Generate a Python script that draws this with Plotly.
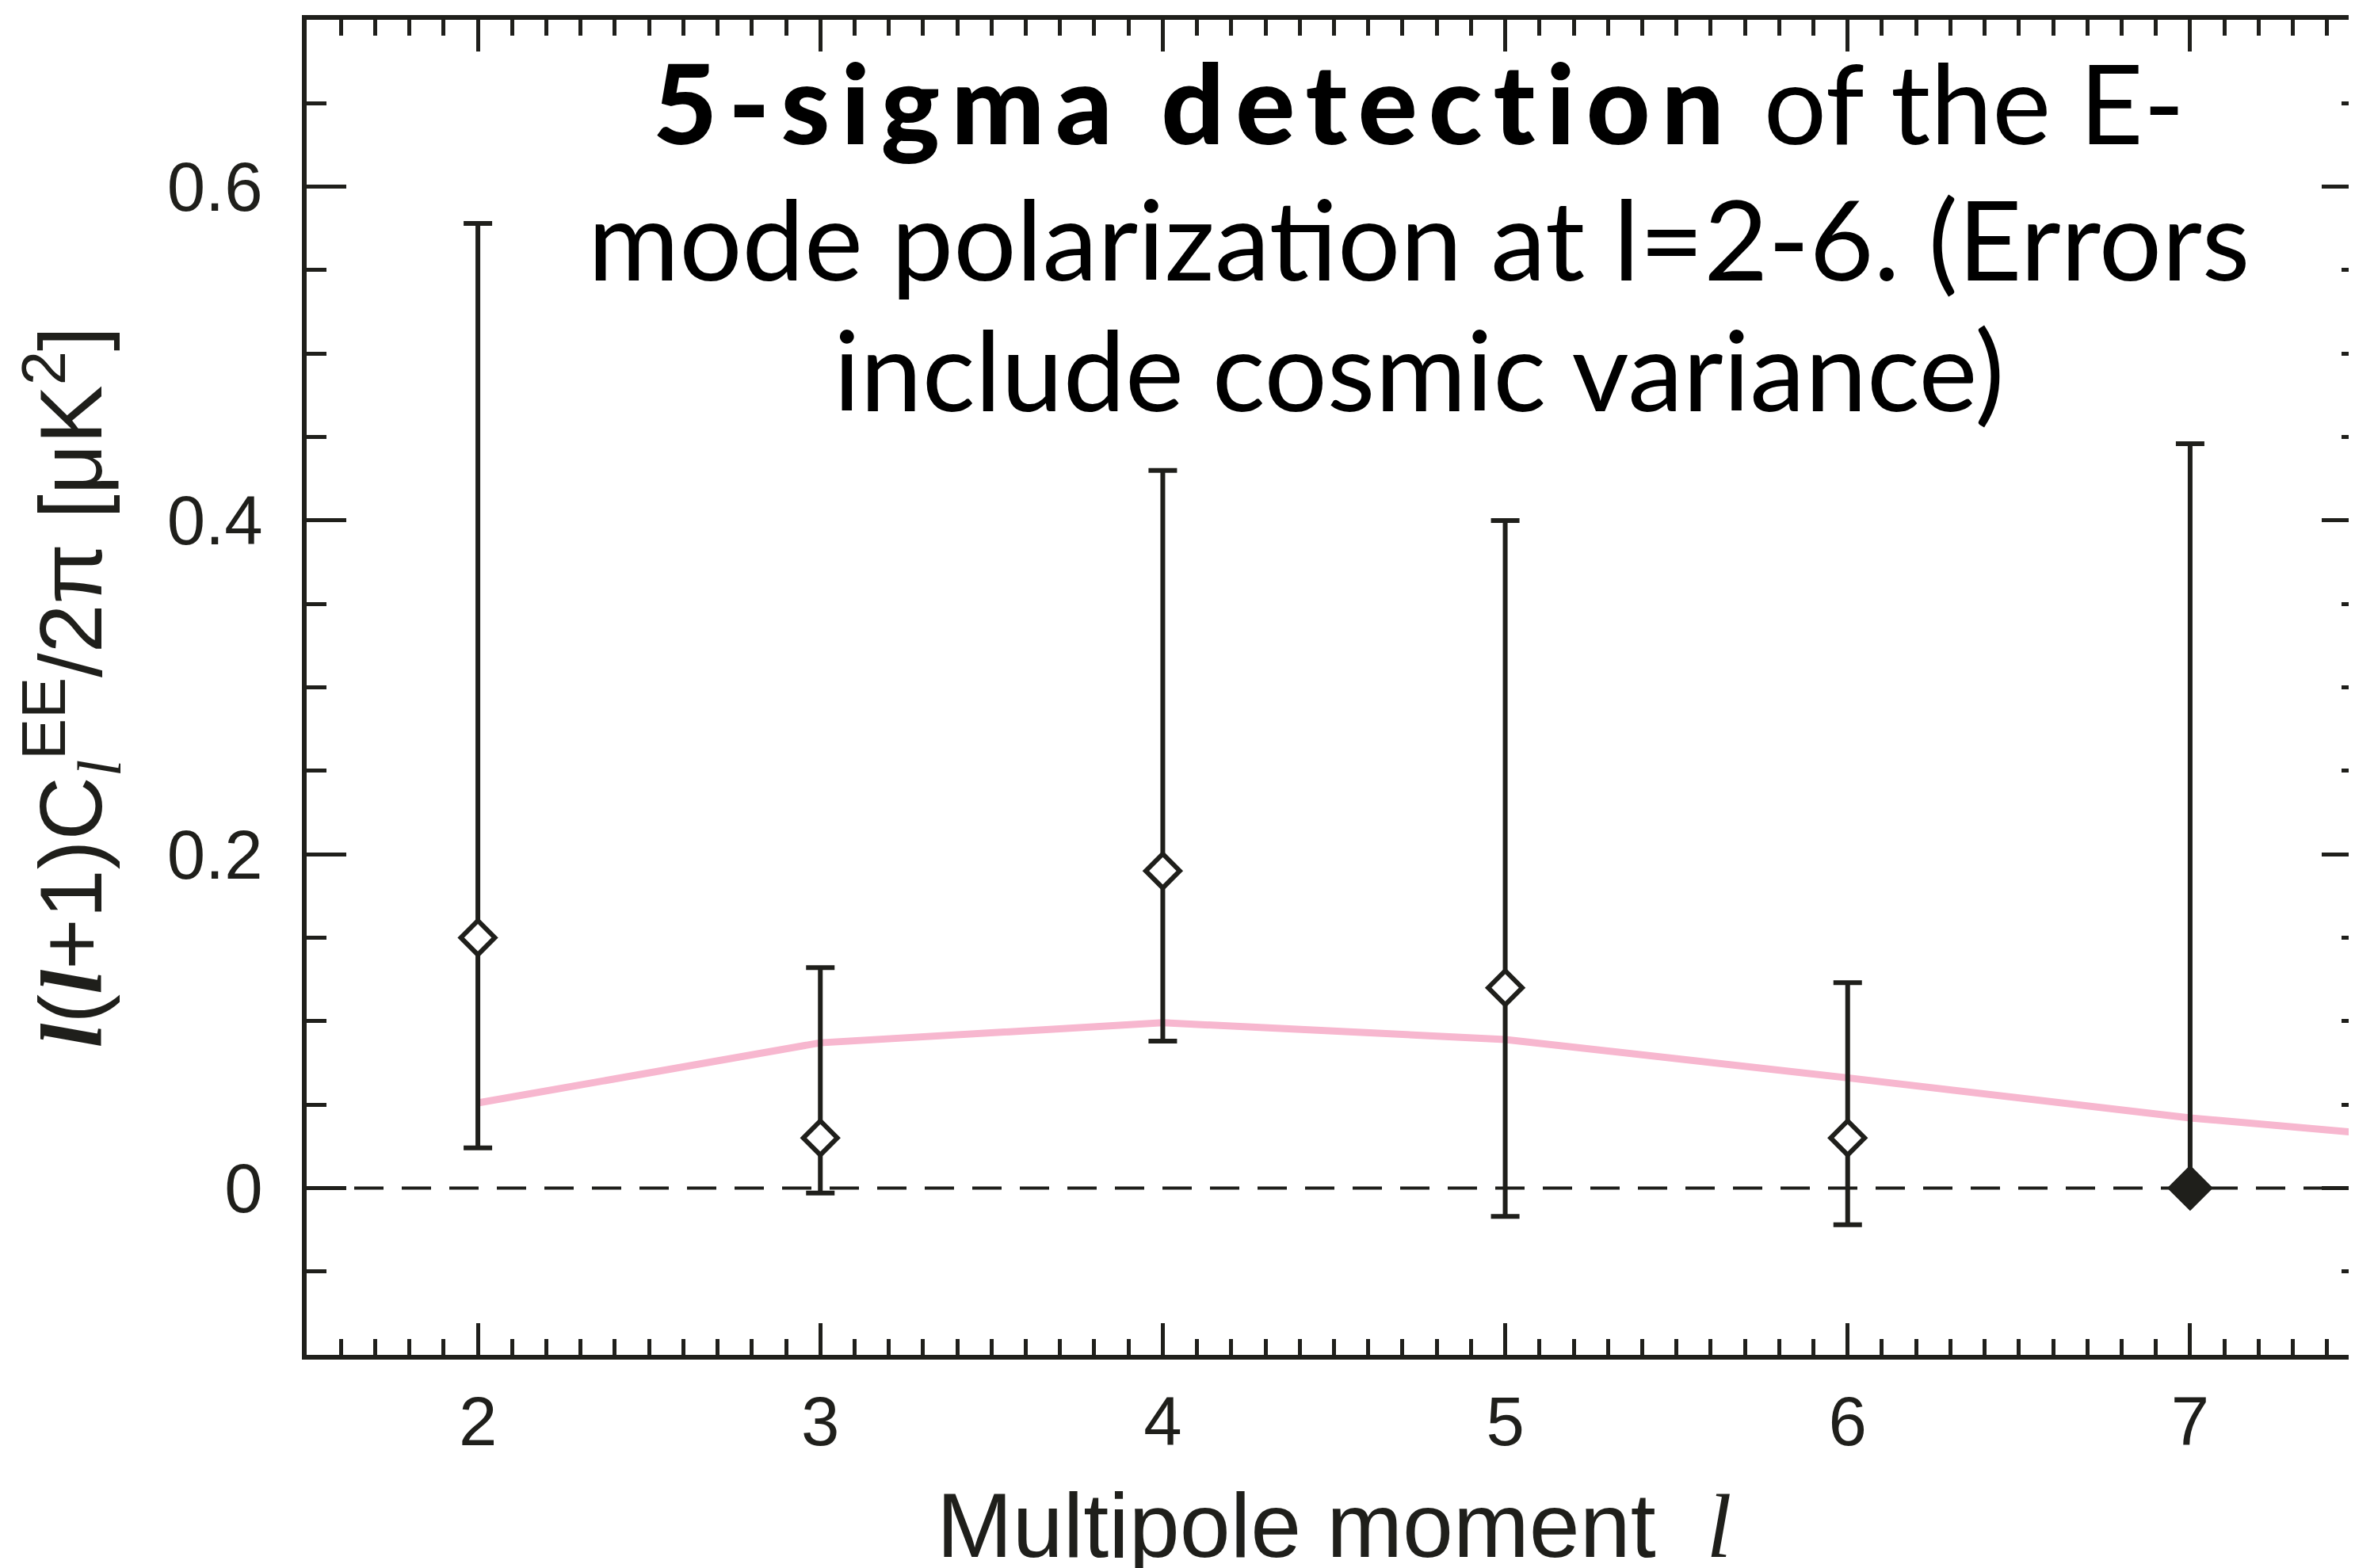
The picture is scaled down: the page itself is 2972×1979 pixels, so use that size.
import plotly.graph_objects as go

# ---- data ----
multipole = [2, 3, 4, 5, 6, 7]
cl_ee = [0.15, 0.03, 0.19, 0.12, 0.03, 0.0]
err_plus = [0.428, 0.102, 0.240, 0.280, 0.093, 0.446]
err_minus = [0.126, 0.033, 0.102, 0.137, 0.052, 0.0]
filled = [False, False, False, False, False, True]

model_l = [2, 3, 4, 5, 6, 7, 8]
model_cl = [0.051, 0.087, 0.099, 0.089, 0.066, 0.042, 0.024]

x_range = [1.5, 7.5]
y_range = [-0.1, 0.7]
y_ticks = [0, 0.2, 0.4, 0.6]
y_ticktext = ["0", "0.2", "0.4", "0.6"]

headline = [
    "<span style=\"font-weight:900;letter-spacing:14px\">5-sigma detection</span> of the E-",
    "mode polarization at l=2-6. (Errors",
    "include cosmic variance)",
]
headline_y = [0.939, 0.8368, 0.7389]

INK = "#1f1f1b"
PINK = "#f7b7cf"
SANS = "Liberation Sans, Arial, sans-serif"
SERIF = "Liberation Serif, Times New Roman, serif"
TITLE_FONT = "Lato, Gill Sans, sans-serif"

fig = go.Figure()

fig.add_trace(go.Scatter(
    x=model_l, y=model_cl, mode="lines",
    line=dict(color=PINK, width=9),
    hoverinfo="skip", showlegend=False,
))

fig.add_trace(go.Scatter(
    x=multipole, y=cl_ee, mode="markers",
    marker=dict(
        symbol="diamond",
        size=[33 if not f else 38 for f in filled],
        color=[INK if f else "white" for f in filled],
        opacity=1,
        line=dict(color=INK, width=6),
    ),
    error_y=dict(type="data", symmetric=False, array=err_plus, arrayminus=err_minus,
                 color=INK, thickness=6, width=18),
    showlegend=False,
))

# zero reference line
fig.add_shape(type="line", xref="paper", x0=0, x1=1, yref="y", y0=0, y1=0,
              line=dict(color=INK, width=4, dash="37px,23px"), layer="below")

fig.update_layout(
    width=2978, height=1979,
    margin=dict(l=379, r=0, t=17, b=277, pad=0),
    paper_bgcolor="white", plot_bgcolor="white",
    showlegend=False,
    xaxis=dict(
        range=x_range, dtick=1, tick0=0,
        showgrid=False, zeroline=False,
        showline=True, linecolor=INK, linewidth=6, mirror="ticks",
        ticks="inside", ticklen=40, tickwidth=5, tickcolor=INK,
        minor=dict(dtick=0.1, tick0=0, ticks="inside", ticklen=20, tickwidth=4.5, tickcolor=INK, showgrid=False),
        tickfont=dict(family=SANS, size=87, color=INK),
        ticklabelstandoff=4,
    ),
    yaxis=dict(
        range=y_range, tickmode="array", tickvals=y_ticks, ticktext=y_ticktext,
        showgrid=False, zeroline=False,
        showline=True, linecolor=INK, linewidth=6, mirror="ticks",
        ticks="inside", ticklen=50, tickwidth=5, tickcolor=INK,
        minor=dict(dtick=0.05, tick0=0, ticks="inside", ticklen=25, tickwidth=4.5, tickcolor=INK, showgrid=False),
        tickfont=dict(family=SANS, size=87, color=INK),
        ticklabelstandoff=32,
    ),
)

# axis titles
fig.add_annotation(
    xref="paper", yref="paper", x=0.5, y=-0.128, xanchor="center", yanchor="middle",
    text=f"Multipole moment  <span style=\"font-family:{SERIF}\"><i>l</i></span>",
    showarrow=False, font=dict(family=SANS, size=115, color=INK),
)
L = f"<span style=\"font-family:{SERIF}\"><b><i>l</i></b></span>"
Lsub = f"<span style=\"font-family:{SERIF}\"><i>l</i></span>"
fig.add_annotation(
    xref="paper", yref="paper", x=-0.1145, y=0.5, xanchor="center", yanchor="middle",
    textangle=-90,
    text=f"{L}({L}+1)C<sub>{Lsub}</sub><sup>EE</sup>/2π [μK<sup>2</sup>]",
    showarrow=False, font=dict(family=SANS, size=111, color=INK),
)

# headline annotation, one line per annotation
for line_text, yy in zip(headline, headline_y):
    fig.add_annotation(
        xref="paper", yref="paper", x=0.5413, y=yy, xanchor="center", yanchor="middle",
        text=line_text, showarrow=False,
        font=dict(family=TITLE_FONT, size=140, color="black"),
    )

fig.write_html("out.html")
